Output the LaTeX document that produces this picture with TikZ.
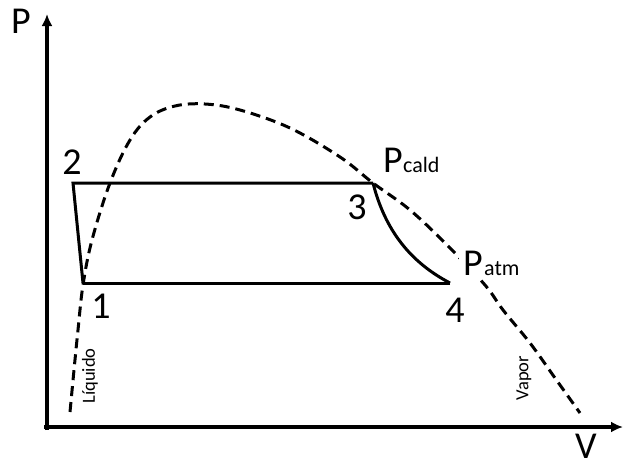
\documentclass[tikz,border=0pt]{standalone}
\usepackage{fontspec}
\setmainfont{Carlito}
\usetikzlibrary{arrows.meta,positioning}

\begin{document}
\begin{tikzpicture}[x=1pt,y=-1pt,
  axis/.style={line width=3.5pt,-{Latex[length=12pt,width=11pt]}},
  cycle/.style={line width=3pt,line join=miter},
  dome/.style={line width=3pt,dash pattern=on 10pt off 6pt},
  lbl/.style={font=\fontsize{38}{40}\selectfont,inner sep=0pt},
  sub/.style={font=\fontsize{22}{24}\selectfont,inner sep=0pt},
  side/.style={font=\fontsize{18.5}{20}\selectfont,inner sep=0pt,rotate=90}]
\useasboundingbox (0,0) rectangle (624,466);
% axes
\coordinate (O) at (47,427);
\coordinate (ptop) at (47,14);
\coordinate (vend) at (623,427);
\draw[axis] (O.center) ++(0,3) -- (ptop);
\draw[axis] (O.center) ++(-3,0) -- (vend);
\node[lbl] (P) at (21,21) {P};
\node[lbl] (V) at (586,446) {V};
% cycle corners
\coordinate (c1) at (83,283);
\coordinate (c2) at (73,183);
\coordinate (c3) at (373,183);
\coordinate (c4) at (450,283);
\draw[cycle] (c1) -- (c2) -- (c3);
\draw[cycle] (c3) .. controls (385,230) and (410,262) .. (c4);
\draw[cycle] (c4) -- (c1);
% saturation dome
\draw[dome] plot[smooth,tension=0.6] coordinates {
  (70,412) (74,370) (78,330) (83,285) (92,240) (110,183) (130,140)
  (150,117) (175,106) (205,104) (240,110) (290,128) (340,157) (c3)
  (410,210) (448,246) (485,285) (503,310) (530,343) (555,378) (580,413)};
% labels
\node[lbl] (n1) at (101,306) {1};
\node[lbl] (n2) at (72,162) {2};
\node[lbl] (n3) at (357,207) {3};
\node[lbl] (n4) at (455,310) {4};
\node[lbl,anchor=base west] (pc) at (383,172) {P};
\node[sub,anchor=base west] (pcs) at (pc.base east) {cald};
\node[lbl,anchor=base west,fill=white,inner sep=4pt] (pa) at (459,275) {P};
\node[sub,anchor=base west,fill=white,inner sep=1pt] (pas) at ([xshift=-4pt]pa.base east) {atm};
\node[side] (liq) at (90,376) {Líquido};
\node[side] (vap) at (524,378) {Vapor};
\end{tikzpicture}
\end{document}
